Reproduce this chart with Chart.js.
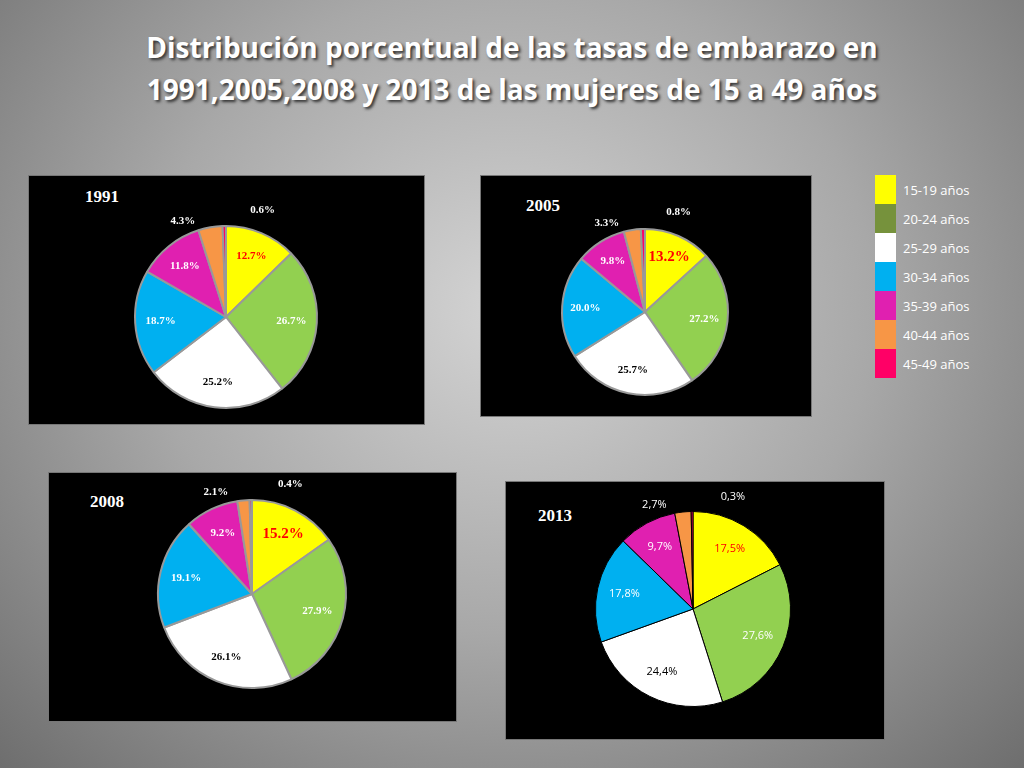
<!DOCTYPE html>
<html><head><meta charset="utf-8">
<script src="https://cdn.jsdelivr.net/npm/chart.js@4"></script>
<style>
body{margin:0;width:1024px;height:768px;overflow:hidden;background:radial-gradient(ellipse at 50% 40%,#d4d4d4 0%,#a8a8a8 50%,#6e6e6e 100%);font-family:"Open Sans",sans-serif;position:relative}
h1{position:absolute;top:26px;left:0;width:1024px;margin:0;text-align:center;color:#fff;font-size:28px;line-height:42px;font-weight:bold;text-shadow:2px 2px 3px #333}
.panel{position:absolute;background:#000;border:1px solid #777}
.yr{position:absolute;color:#fff;font:bold 17px "Liberation Serif",serif}
canvas{position:absolute}
.leg{position:absolute;left:875px;top:175px;font-size:13px;color:#fff}
.leg div{height:29px;display:flex;align-items:center}
.leg span{display:inline-block;width:21px;height:29px;margin-right:7px}
</style></head><body>
<h1>Distribución porcentual de las tasas de embarazo en<br>1991,2005,2008 y 2013 de las mujeres de 15 a 49 años</h1>
<div class="panel" style="left:28px;top:175px;width:395px;height:248px"></div>
<div class="panel" style="left:480px;top:175px;width:330px;height:240px"></div>
<div class="panel" style="left:48px;top:472px;width:407px;height:248px"></div>
<div class="panel" style="left:505px;top:481px;width:378px;height:257px"></div>
<div class="yr" style="left:85px;top:187px">1991</div>
<div class="yr" style="left:526px;top:196px">2005</div>
<div class="yr" style="left:90px;top:492px">2008</div>
<div class="yr" style="left:538px;top:506px">2013</div>
<div class="leg" id="leg"></div>
<canvas id="c1"></canvas><canvas id="c2"></canvas><canvas id="c3"></canvas><canvas id="c4"></canvas>
<script>
const categories=["15-19 años","20-24 años","25-29 años","30-34 años","35-39 años","40-44 años","45-49 años"];
const v1991=[12.7,26.7,25.2,18.7,11.8,4.3,0.6];
const v2005=[13.2,27.2,25.7,20.0,9.8,3.3,0.8];
const v2008=[15.2,27.9,26.1,19.1,9.2,2.1,0.4];
const v2013=[17.5,27.6,24.4,17.8,9.7,2.7,0.3];
const colors=["#ffff00","#92d050","#ffffff","#00b0f0","#e020b0","#f79646","#ff0066"];
document.getElementById('leg').innerHTML=categories.map((c,i)=>`<div><span style="background:${i==1?'#76923c':colors[i]}"></span>${c}</div>`).join('');
function make(id,cx,cy,r,vals,serif,comma,big){
  const m=45,s=2*r+2*m,cv=document.getElementById(id);
  cv.width=s;cv.height=s;
  cv.style.left=(cx-r-m)+'px';cv.style.top=(cy-r-m)+'px';cv.style.width=s+'px';cv.style.height=s+'px';
  new Chart(cv,{type:'pie',data:{labels:categories,datasets:[{data:vals,backgroundColor:colors,borderColor:serif?'#999':'#000',borderWidth:serif?2:1}]},
  options:{responsive:false,animation:false,devicePixelRatio:1,layout:{padding:m},plugins:{legend:{display:false},tooltip:{enabled:false}}},
  plugins:[{id:'lbl',afterDraw(ch){const c=ch.ctx;ch.getDatasetMeta(0).data.forEach((a,i)=>{
    const mid=(a.startAngle+a.endAngle)/2,v=vals[i];let rr=v<5?a.outerRadius+14+(i==6?8:0):a.outerRadius*0.72;
    let ang=mid; if(v<5) ang=mid+(i==5?-0.25:0.35);
    const x=a.x+Math.cos(ang)*rr,y=a.y+Math.sin(ang)*rr;
    c.save();c.textAlign='center';c.textBaseline='middle';
    c.fillStyle=v<5?'#fff':(i==0?'#ff0000':(i==2?'#000':'#fff'));
    const fs=(i==0&&big)?15:11;
    c.font=serif?`bold ${fs}px "Liberation Serif",serif`:`11px "Open Sans",sans-serif`;
    let t=v.toFixed(1)+'%';if(comma)t=t.replace('.',',');
    c.fillText(t,x,y);c.restore();});}}]});
}
make('c1',226,317,92,v1991,true,false,false);
make('c2',645,312,84,v2005,true,false,true);
make('c3',252,594,95,v2008,true,false,true);
make('c4',693,609,98,v2013,false,true,false);
</script></body></html>
